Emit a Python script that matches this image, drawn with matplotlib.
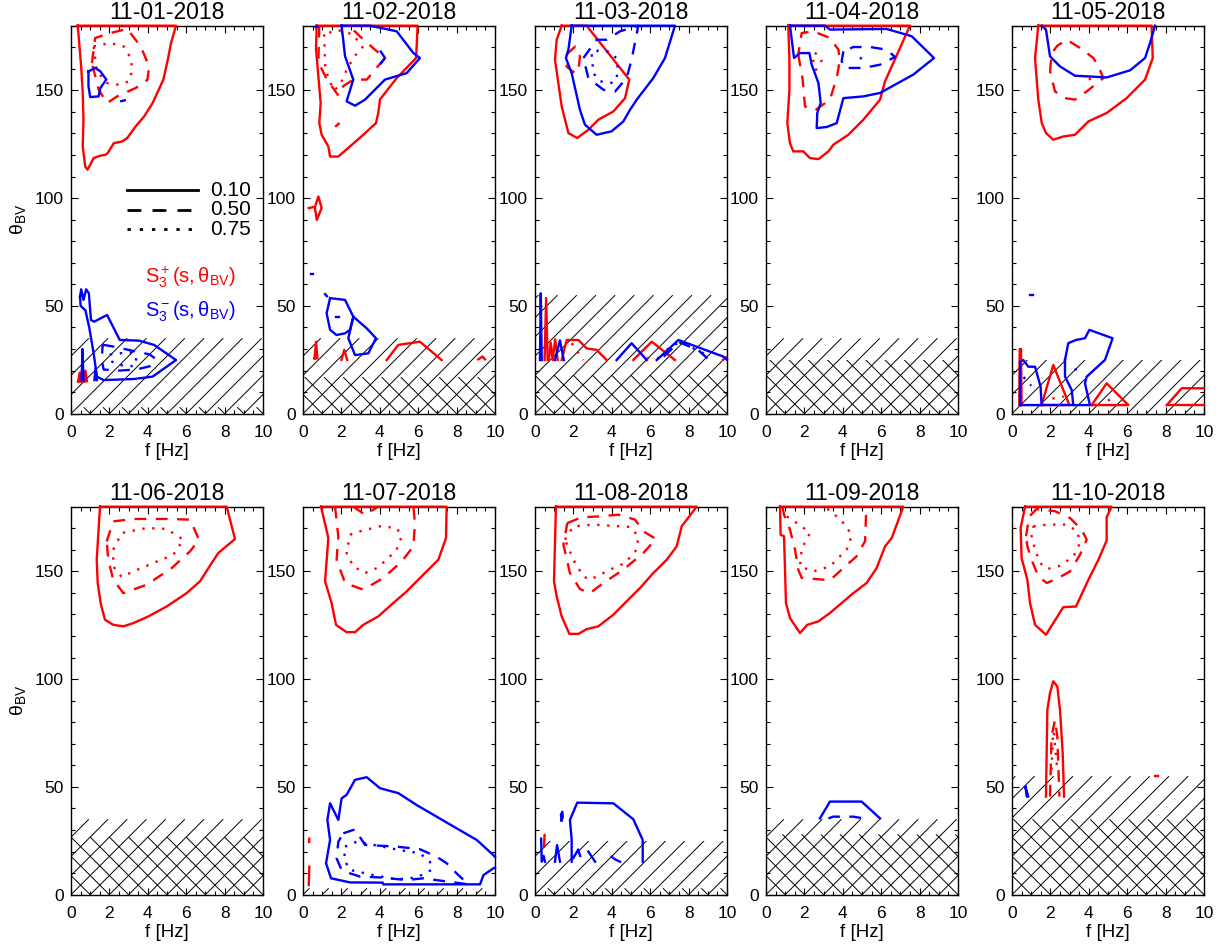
import matplotlib
matplotlib.use('Agg')
import numpy as np
import matplotlib.pyplot as plt
import matplotlib.patches as patches
from matplotlib.collections import LineCollection
from matplotlib.ticker import MultipleLocator

plt.rcParams['font.family'] = ['Liberation Sans', 'DejaVu Sans']
plt.rcParams['mathtext.fontset'] = 'custom'
plt.rcParams['mathtext.rm'] = 'Liberation Sans'
plt.rcParams['mathtext.it'] = 'Liberation Sans'

dates = ['11-01-2018', '11-02-2018', '11-03-2018', '11-04-2018', '11-05-2018',
         '11-06-2018', '11-07-2018', '11-08-2018', '11-09-2018', '11-10-2018']
levels = [0.10, 0.50, 0.75]

# upper limit of the single (/) and crossed (x) hatched zones, deg
hatch_single = [35, 35, 55, 35, 25, 35, 3, 25, 35, 55]
hatch_cross = [3, 17, 18, 25, 0, 27, 0, 3, 28, 35]

# contour lines: (level, [(f, theta), ...])
nov01_plus = [
    (0.10, [(0.35, 180), (0.42, 172.8), (0.53, 161.1), (0.61, 148.8), (0.65, 136.4), (0.61, 124), (0.74, 114.7),
            (0.86, 113.2), (1.0, 115.5), (1.18, 118.6), (1.53, 119.7), (1.79, 120.1), (1.91, 120.9), (2.23, 125.5),
            (2.67, 126.3), (2.93, 127.9), (3.37, 133.3), (3.81, 137.9), (4.25, 144.1), (4.81, 155), (5.04, 164.2),
            (5.21, 172), (5.47, 180), (0.35, 180)]),
    (0.10, [(0.37, 15), (0.45, 19), (0.52, 15), (0.6, 22), (0.68, 15), (0.75, 20), (0.83, 15), (0.37, 15)]),
    (0.50, [(1.09, 162.7), (1.26, 174.3), (2.05, 176.6), (2.93, 178.5), (3.63, 170.4), (4.07, 161.1), (3.98, 154.9),
            (3.37, 151.1), (2.4, 147.2), (1.88, 144.1), (1.44, 150.3), (1.09, 162.7)]),
    (0.75, [(1.18, 170.4), (2.05, 172), (2.75, 170.4), (3.11, 165), (3.19, 159.6), (3.02, 154.2), (2.49, 152.6),
            (1.88, 153.4), (1.35, 158.8), (1.18, 170.4)]),
]
nov01_minus = [
    (0.10, [(0.91, 158.8), (1.26, 160.4), (1.53, 158.8), (1.84, 155), (1.53, 151.1), (1.44, 147.2), (1.0, 146.9),
            (0.91, 151.9), (0.91, 158.8)]),
    (0.10, [(2.62, 145), (2.8, 145.4)]),
    (0.10, [(0.47, 54.3), (0.53, 57.7), (0.65, 52.8), (0.79, 57.7), (0.93, 55.9), (1.04, 43.5), (1.21, 42.7),
            (1.88, 45.8), (2.54, 34.2), (3.54, 33.9), (4.33, 31.9), (5.47, 24.9), (4.25, 17.2), (3.28, 16.1),
            (1.70, 15.6), (1.35, 17.2), (1.18, 28), (0.95, 40), (0.75, 48), (0.5, 50), (0.47, 54.3)]),
    (0.10, [(0.55, 15.6), (0.6, 30), (0.65, 15.6)]),
    (0.10, [(1.22, 15.6), (1.28, 21), (1.35, 15.6)]),
    (0.50, [(1.65, 32), (2.3, 31), (3.3, 29), (4.1, 27.5), (4.4, 25.5), (4.1, 22), (3.4, 20.5), (2.5, 20), (1.7, 20.5),
            (1.6, 25), (1.65, 32)]),
    (0.75, [(2.03, 27.5), (3.07, 28.5), (3.42, 26.5), (3.3, 22), (2.6, 22.5), (2.03, 24.5), (2.03, 27.5)]),
]

nov02_plus = [
    (0.10, [(0.71, 180), (5.97, 180), (5.89, 165), (4.88, 155.7), (4.01, 145.8), (3.92, 139.5), (3.8, 134.8),
            (3.14, 129.4), (2.45, 124), (1.84, 119.3), (1.41, 119.3), (1.32, 124), (0.97, 129.4), (0.85, 134.8),
            (0.92, 144.1), (0.8, 156.5), (0.68, 168.9), (0.71, 180)]),
    (0.10, [(0.3, 95.4), (0.63, 96), (0.8, 100.8), (0.97, 95.4), (0.72, 89.9), (0.63, 95)]),
    (0.10, [(1.72, 133.5), (1.86, 134.5)]),
    (0.10, [(0.6, 25.7), (0.68, 33.4), (0.75, 25.7), (0.6, 25.7)]),
    (0.10, [(2.0, 25), (2.15, 29.6), (2.3, 25)]),
    (0.10, [(4.36, 24.9), (4.96, 31.9), (6.09, 33.4), (7.22, 24.9)]),
    (0.10, [(9.13, 25.2), (9.35, 26.5), (9.48, 25.2)]),
    (0.50, [(0.85, 180), (0.8, 163), (1.25, 155), (1.85, 147.5), (2.1, 152), (2.62, 155), (3.32, 155), (4.27, 165),
            (3.6, 170), (2.97, 175), (2.4, 180)]),
    (0.75, [(1.1, 176), (1.15, 162), (1.3, 156), (1.6, 150), (1.9, 152), (2.3, 160), (2.7, 166), (3.1, 170),
            (2.6, 176), (1.8, 178), (1.1, 176)]),
]
nov02_minus = [
    (0.10, [(2.01, 180), (3.49, 180), (4.88, 177.4), (5.75, 167.3), (6.09, 165), (5.4, 158), (4.27, 155),
            (3.23, 145.7), (2.71, 142.9), (2.27, 144.9), (2.62, 155), (2.19, 165.8), (2.01, 180)]),
    (0.10, [(4.05, 168), (4.27, 165), (4.05, 162.5)]),
    (0.10, [(0.66, 179.5), (0.78, 179.5)]),
    (0.10, [(1.41, 53.6), (2.19, 52.8), (2.62, 45), (2.45, 38.9), (2.19, 37.3), (1.75, 36.5), (1.41, 38.9),
            (1.23, 46.6), (1.41, 53.6)]),
    (0.10, [(2.62, 45), (3.32, 39.6), (3.8, 35), (3.4, 28), (2.71, 27.2), (2.36, 35), (2.62, 45)]),
    (0.10, [(1.15, 55.5), (1.25, 54.5)]),
    (0.10, [(1.72, 45), (1.86, 45)]),
    (0.10, [(0.42, 64.9), (0.52, 64.9)]),
]

nov03_plus = [
    (0.10, [(1.39, 180), (2.69, 180), (4.91, 155), (4.69, 146.4), (4.08, 140.2), (3.3, 136.4), (2.78, 131.7),
            (2.2, 127.9), (1.74, 130.2), (1.39, 142.6), (1.04, 164.2), (1.13, 173.5), (1.39, 180)]),
    (0.10, [(0.5, 24.9), (0.58, 53.6), (0.66, 24.9)]),
    (0.10, [(0.72, 24.9), (0.82, 33), (0.92, 24.9), (1.05, 34.5), (1.18, 24.9)]),
    (0.10, [(1.39, 24.9), (1.65, 34.2), (2.26, 34.2), (2.69, 30.3), (3.21, 29.6), (3.73, 24.9)]),
    (0.10, [(5.12, 24.9), (6.08, 33.4), (7.29, 24.9)]),
    (0.10, [(9.8, 25), (9.95, 26)]),
    (0.50, [(1.65, 166.7), (2.1, 170.4), (2.34, 165.8), (2.26, 158.8), (2.08, 158), (1.65, 161), (1.65, 166.7)]),
    (0.75, [(1.91, 32.7), (2.52, 24.9)]),
    (0.75, [(5.82, 25.7), (6.5, 25.7)]),
]
nov03_minus = [
    (0.10, [(1.91, 180), (1.74, 168.9), (1.61, 165), (1.91, 158), (2.34, 141), (2.6, 134.1), (3.21, 129.4),
            (3.99, 131), (4.6, 135.6), (4.95, 141), (5.3, 145.7), (6.16, 155.7), (6.77, 165), (7.29, 180),
            (1.91, 180)]),
    (0.10, [(0.26, 24.9), (0.3, 55.9), (0.35, 24.9)]),
    (0.10, [(1.04, 24.9), (1.3, 34), (1.5, 24.9)]),
    (0.10, [(4.25, 24.9), (5.03, 32.7), (5.82, 24.9)]),
    (0.10, [(6.34, 24.9), (7.47, 34.2), (9.81, 26.5), (10, 25)]),
    (0.50, [(2.52, 165), (3.21, 173.5), (3.73, 173.5), (4.43, 177.4), (5.38, 180), (5.03, 164.2), (4.77, 155.7),
            (4.17, 149.5), (3.56, 150.3), (2.78, 155.7), (2.52, 165)]),
    (0.50, [(6.7, 26.5), (7.5, 33.2), (8.5, 29.5), (9.0, 25.5)]),
    (0.75, [(2.95, 166.7), (3.04, 158), (3.39, 154.2), (4.08, 153.4), (4.34, 158), (4.25, 164.9), (3.82, 168),
            (3.3, 168.5), (2.95, 166.7)]),
    (0.75, [(6.86, 29.6), (7.55, 33.4), (8.77, 28), (8.94, 24.9)]),
]

nov04_plus = [
    (0.10, [(1.16, 180), (7.5, 180), (6.2, 154.2), (5.94, 145.7), (5.07, 136.4), (4.29, 129.4), (3.51, 124.8),
            (3.25, 121.7), (2.73, 118.1), (2.29, 118.6), (1.94, 121.7), (1.42, 121.7), (1.25, 125.5), (1.11, 134.8),
            (1.22, 150.3), (1.22, 164.2), (1.16, 180)]),
    (0.50, [(1.68, 166.6), (1.91, 155), (2.03, 142.6), (2.55, 140.7), (3.33, 145.7), (3.68, 155.7), (3.85, 164.2),
            (3.77, 168.9), (3.33, 174.3), (2.47, 177.4), (1.86, 176.6), (1.68, 166.6)]),
    (0.75, [(2.55, 167.5), (2.9, 164), (2.6, 159.5), (2.45, 163), (2.55, 167.5)]),
]
nov04_minus = [
    (0.10, [(1.25, 180), (1.46, 165), (1.77, 167.3), (2.26, 167.3), (2.38, 161.9), (2.73, 153.4), (2.85, 144.1),
            (2.67, 139.5), (2.64, 132.5), (3.16, 133), (3.68, 134.8), (4.03, 146.4), (5.07, 147.2), (5.94, 148.8),
            (7.67, 157.3), (8.75, 165), (7.59, 175.1), (6.28, 178.5), (3.33, 178.2), (3.07, 180), (1.25, 180)]),
    (0.50, [(4.03, 168.1), (3.94, 163.5), (4.11, 160.4), (5.07, 160.4), (5.94, 161.9), (6.72, 165.5), (6.28, 168.9),
            (5.42, 170.1), (4.55, 170.1), (4.03, 168.1)]),
    (0.75, [(4.9, 164.5), (5.05, 166)]),
]

nov05_plus = [
    (0.10, [(1.37, 180), (7.27, 180), (7.33, 165), (6.93, 155), (5.97, 146.4), (4.93, 139.5), (3.98, 135.6),
            (3.28, 129.4), (2.67, 128.6), (2.15, 127.1), (1.77, 130.2), (1.55, 134.8), (1.37, 145.7), (1.2, 165),
            (1.37, 180)]),
    (0.10, [(0.38, 4), (0.4, 30), (0.47, 30), (0.5, 4)]),
    (0.10, [(1.54, 4), (2.15, 22.6), (2.99, 4), (1.54, 4)]),
    (0.10, [(4.15, 4), (4.93, 14.1), (6.06, 4), (4.15, 4)]),
    (0.10, [(8.06, 4), (8.84, 11.8), (10, 11.8)]),
    (0.10, [(8.06, 4), (10, 4)]),
    (0.50, [(1.98, 158.8), (2.07, 167.3), (2.36, 170.7), (2.85, 173.5), (3.54, 169.7), (4.24, 165), (4.5, 161.1),
            (4.76, 155.7), (3.89, 149.5), (3.28, 145.7), (2.76, 146.4), (2.24, 149.5), (1.98, 158.8)]),
    (0.75, [(4.0, 155), (4.12, 155.6)]),
    (0.75, [(2.1, 7), (2.7, 8)]),
    (0.75, [(5.0, 6), (5.3, 8)]),
]
nov05_minus = [
    (0.10, [(1.55, 180), (1.77, 178.2), (1.98, 165.8), (2.5, 161.1), (3.28, 156.8), (4.93, 156), (6.15, 159.3),
            (6.93, 165), (7.19, 172), (7.45, 180)]),
    (0.10, [(0.42, 4), (0.42, 24.1), (0.59, 24.9), (0.85, 21.8), (1.2, 21.8), (1.49, 12.5), (1.54, 4), (0.42, 4)]),
    (0.10, [(1.54, 4), (3.19, 4)]),
    (0.10, [(2.76, 24.9), (2.93, 32.7), (3.33, 34.2), (3.8, 35), (4.03, 38.9), (5.24, 35), (4.84, 24.9),
            (3.89, 17.2), (3.8, 14.1), (4.06, 4), (3.19, 4), (3.11, 11), (2.76, 17.2), (2.76, 24.9)]),
    (0.10, [(0.95, 55.1), (1.1, 55.1)]),
    (0.75, [(0.6, 17), (0.8, 15), (1.0, 13)]),
    (0.75, [(3.3, 20), (3.4, 23)]),
]

nov06_plus = [
    (0.10, [(1.51, 180), (8.11, 180), (8.54, 165), (7.67, 158.5), (7.33, 153.9), (6.72, 145.4), (6.02, 139.9),
            (4.98, 133.7), (4.03, 129.1), (3.25, 126), (2.73, 124.5), (2.2, 125.2), (1.77, 127.6), (1.56, 134.5),
            (1.39, 144.6), (1.34, 155.4), (1.51, 180)]),
    (0.50, [(1.86, 163.9), (2.2, 173.2), (3.25, 174.3), (5.16, 174.3), (6.2, 174), (6.67, 164.7), (6.2, 159.3),
            (5.24, 151.5), (3.94, 143.8), (2.73, 139.9), (2.2, 146.1), (1.94, 155.4), (1.86, 163.9)]),
    (0.75, [(2.2, 160.1), (2.64, 167.8), (3.94, 170.1), (4.98, 169.7), (5.85, 164.7), (5.33, 157.7), (4.29, 153.9),
            (3.25, 150), (2.64, 147.4), (2.2, 152.3), (2.2, 160.1)]),
]
nov06_minus = []

nov07_plus = [
    (0.10, [(0.94, 180), (7.48, 180), (7.45, 165.5), (7.05, 155.4), (5.92, 145.4), (5.4, 140.7), (4.7, 135.3),
            (3.92, 129.1), (3.14, 125.2), (2.71, 121.8), (2.27, 121.8), (1.72, 125.2), (1.49, 135.3), (1.15, 145.4),
            (1.32, 165.5), (0.94, 180)]),
    (0.10, [(0.3, 4.5), (0.33, 13)]),
    (0.10, [(0.32, 24.5), (0.33, 26)]),
    (0.50, [(1.67, 180), (1.84, 166), (1.75, 155.4), (2.19, 144.6), (3.14, 141.5), (4.18, 146.9), (5.14, 154.6),
            (5.75, 161.6), (5.83, 172.4), (5.75, 180)]),
    (0.50, [(2.62, 180), (3.23, 176.3), (3.92, 180)]),
    (0.75, [(2.45, 167), (2.97, 168.6), (4.01, 170.9), (4.88, 170.1), (5.14, 166.3), (4.88, 160.1), (4.36, 155.4),
            (3.84, 151.5), (3.23, 149.2), (2.62, 152.3), (2.27, 158.5), (2.45, 167)]),
]
nov07_minus = [
    (0.10, [(10, 17.5), (9.91, 18.4), (9.05, 25.4), (8.0, 30.8), (6.96, 36.2), (5.92, 41.6), (4.97, 47.1),
            (4.01, 49.4), (3.32, 54.5), (2.71, 53.3), (2.27, 46.3), (2.01, 44.7), (1.84, 34.7), (1.41, 42.4),
            (1.27, 34.7), (1.41, 25.4), (1.2, 14.6), (1.46, 7.6), (2.45, 5.7), (4.15, 5.6), (4.18, 4.8), (9.22, 4.8),
            (9.4, 9.1), (9.91, 12.2), (10, 12.6)]),
    (0.50, [(2.1, 28.5), (2.71, 30.3), (3.23, 23.1), (4.27, 22.6), (4.88, 22.3), (6.09, 21.1), (6.96, 17.6),
            (7.48, 14.6), (8.0, 9.9), (8.61, 4.8), (6.26, 7.6), (5.4, 6.8), (4.01, 8.0), (2.97, 8.4), (2.45, 9.9),
            (2.01, 11.5), (1.75, 16.9), (1.84, 24.6), (2.1, 28.5)]),
    (0.75, [(2.19, 22.3), (2.8, 24.6), (3.66, 23.1), (5.05, 20.7), (6.09, 19.2), (6.61, 15.3), (6.7, 11.5),
            (5.92, 8.0), (4.88, 7.1), (3.66, 9.1), (2.45, 11.5), (2.15, 16.1), (2.19, 22.3)]),
]

nov08_plus = [
    (0.10, [(1.09, 180), (8.42, 180), (7.64, 170.9), (7.38, 161.6), (6.86, 155.4), (6.16, 149.2), (5.47, 142.3),
            (4.77, 136.1), (4.08, 129.9), (3.3, 124.5), (2.69, 123.2), (2.26, 121), (1.79, 121), (1.39, 129.1),
            (1.13, 138.4), (0.99, 145.4), (1.09, 180)]),
    (0.10, [(0.47, 22.3), (0.5, 27.7)]),
    (0.50, [(1.68, 172.4), (2.43, 175.1), (3.39, 175.5), (4.34, 176.3), (5.21, 174), (5.64, 168.6), (6.3, 165),
            (5.64, 158.5), (4.6, 150.8), (3.56, 144.6), (2.86, 139.9), (2.34, 141.8), (1.82, 149.2), (1.48, 162.4),
            (1.68, 172.4)]),
    (0.75, [(1.56, 164.7), (2.0, 170.9), (3.04, 171.7), (4.95, 170.6), (5.38, 166.3), (5.3, 160.1), (4.69, 153.9),
            (3.91, 150.8), (2.86, 146.1), (2.52, 147.7), (2.0, 155.4), (1.56, 164.7)]),
]
nov08_minus = [
    (0.10, [(1.91, 15.3), (1.91, 25.4), (1.82, 34.7), (2.2, 42.7), (4.08, 42.4), (5.12, 35), (5.61, 25.4),
            (5.61, 15.3)]),
    (0.10, [(1.38, 34.5), (1.35, 37), (1.42, 38.5), (1.45, 36), (1.38, 34.5)]),
    (0.10, [(0.32, 26), (0.35, 15.3), (0.45, 18), (0.52, 15.3)]),
    (0.10, [(1.04, 15.3), (1.15, 23), (1.3, 15.3)]),
    (0.10, [(2.0, 17), (2.25, 21), (2.35, 18)]),
    (0.10, [(2.78, 20), (3.13, 15.3)]),
    (0.10, [(3.99, 17.6), (4.15, 16.5), (4.43, 15.3)]),
]

nov09_plus = [
    (0.10, [(0.73, 180), (7.15, 180), (6.55, 165.5), (6.2, 161.6), (5.76, 151.5), (5.24, 144.6), (4.55, 139.9),
            (3.94, 135.3), (3.33, 130.7), (2.73, 126.8), (2.15, 125.2), (1.77, 121.4), (1.25, 128.3), (1.04, 135.3),
            (0.94, 166.3), (0.76, 167), (0.73, 180)]),
    (0.50, [(0.85, 180), (0.94, 176.3), (1.25, 169.3), (1.51, 160.1), (1.68, 150.8), (1.86, 147), (3.33, 145.9),
            (3.94, 150.8), (4.72, 157), (5.16, 164), (5.21, 176.3), (5.24, 180)]),
    (0.75, [(1.08, 175.5), (1.86, 170.9), (2.29, 167.8), (1.86, 160.5), (1.77, 152.3), (2.47, 150), (3.33, 152.3),
            (4.2, 160.1), (4.46, 166.3), (4.2, 170.9), (3.68, 175.5), (3.07, 180)]),
]
nov09_minus = [
    (0.10, [(2.81, 35.4), (3.33, 43.2), (4.98, 43.2), (5.94, 35.4)]),
    (0.50, [(3.25, 35.4), (3.5, 36.2), (4.55, 36.2), (5.07, 35.4)]),
]

nov10_plus = [
    (0.10, [(0.68, 180), (5.19, 180), (4.93, 175.1), (4.93, 164.3), (4.5, 155.4), (3.98, 146.1), (3.33, 133.7),
            (2.67, 133.4), (1.77, 120.6), (1.2, 125.2), (0.94, 135.3), (0.8, 146.1), (0.5, 156.2), (0.45, 170.1),
            (0.68, 180)]),
    (0.10, [(1.77, 45.5), (1.84, 85.8), (1.98, 93.6), (2.15, 99), (2.36, 96.6), (2.5, 85.8), (2.64, 65.6),
            (2.71, 45.5)]),
    (0.10, [(7.45, 55.1), (7.6, 55.1)]),
    (0.50, [(0.73, 166.3), (0.9, 175.5), (1.28, 178.9), (2.24, 177.9), (3.02, 174.8), (3.63, 169.3), (3.89, 164.7),
            (3.54, 157.7), (3.02, 150), (2.41, 146.9), (1.81, 144.6), (1.37, 147.7), (1.02, 155.4), (0.8, 161.6),
            (0.73, 166.3)]),
    (0.50, [(1.98, 45.5), (2.06, 73.4), (2.24, 81.1), (2.36, 73.4), (2.47, 45.5)]),
    (0.75, [(1.11, 170.9), (1.89, 171.7), (2.85, 171.7), (3.4, 168.6), (3.54, 163.2), (3.19, 156.7), (2.41, 152.3),
            (1.84, 151.1), (1.46, 153.9), (1.2, 160.1), (1.02, 166.3), (1.11, 170.9)]),
    (0.75, [(2.06, 58), (2.15, 78), (2.36, 58)]),
]
nov10_minus = [
    (0.10, [(0.7, 50), (0.77, 45.5), (0.85, 45.5), (0.7, 50)]),
]

plus_all = [nov01_plus, nov02_plus, nov03_plus, nov04_plus, nov05_plus,
            nov06_plus, nov07_plus, nov08_plus, nov09_plus, nov10_plus]
minus_all = [nov01_minus, nov02_minus, nov03_minus, nov04_minus, nov05_minus,
             nov06_minus, nov07_minus, nov08_minus, nov09_minus, nov10_minus]

RED = '#ff0000'
BLUE = '#0000ff'
line_styles = {0.10: '-', 0.50: (0, (5, 4)), 0.75: (0, (1, 3.2))}

# panel geometry in pixels
W, H = 1224.0, 951.0
AX_W, AX_H = 192.0, 388.0
lefts = [71, 303, 535, 766, 1012]
bottoms = [1 - 413.7 / H, 1 - 894.7 / H]
XMAX, YMAX = 10.0, 180.0
HATCH_STEP = 1.0  # Hz between hatch lines


def draw_contours(ax, contours, color):
    for level, pts in contours:
        fs = [p[0] for p in pts]
        ths = [p[1] for p in pts]
        ax.plot(fs, ths, color=color, lw=1.7, linestyle=line_styles[level], clip_on=False, zorder=3)


def draw_hatch(ax, top, sign):
    # 45 degree lines on screen, clipped to the box [0,10] x [0,top]
    if top <= 0:
        return
    slope = (AX_W / XMAX) / (AX_H / YMAX)
    segs = []
    for f0 in np.arange(-30, 31, HATCH_STEP):
        segs.append([(f0, 0), (f0 + sign * top / slope, top)])
    box = patches.Rectangle((0, 0), XMAX, top, transform=ax.transData, fill=False, lw=0)
    lc = LineCollection(segs, colors='black', linewidths=0.7, zorder=1)
    ax.add_collection(lc)
    lc.set_clip_path(box)


fig = plt.figure(figsize=(12.24, 9.51), dpi=100)
axes = []
for i in range(10):
    r, c = divmod(i, 5)
    ax = fig.add_axes([lefts[c] / W, bottoms[r], AX_W / W, AX_H / H])
    axes.append(ax)
    draw_hatch(ax, hatch_single[i], 1)
    draw_hatch(ax, hatch_cross[i], -1)
    draw_contours(ax, plus_all[i], RED)
    draw_contours(ax, minus_all[i], BLUE)
    ax.set_xlim(0, XMAX)
    ax.set_ylim(0, YMAX)
    ax.xaxis.set_major_locator(MultipleLocator(2))
    ax.xaxis.set_minor_locator(MultipleLocator(0.5))
    ax.yaxis.set_major_locator(MultipleLocator(50))
    ax.yaxis.set_minor_locator(MultipleLocator(10))
    ax.tick_params(which='both', direction='in', top=True, right=True, labelsize=12.5, width=0.8)
    ax.tick_params(which='major', length=5)
    ax.tick_params(which='minor', length=3)
    ax.tick_params(axis='x', pad=8)
    ax.tick_params(axis='y', pad=5)
    for sp in ax.spines.values():
        sp.set_linewidth(1.0)
    ax.set_title(dates[i], fontsize=16.5, pad=5)
    ax.set_xlabel('f [Hz]', fontsize=13.5, labelpad=2)
    if c == 0:
        ax.set_ylabel(r'$\mathregular{\theta_{BV}}$', fontsize=14, labelpad=5)

# legend in the first panel
ax = axes[0]
leg_styles = ['-', (0, (5, 4)), (0, (1.2, 3.2))]
for k, lev in enumerate(levels):
    y = 0.576 - 0.05 * k
    ax.plot([0.29, 0.66], [y, y], transform=ax.transAxes, color='black', lw=2, linestyle=leg_styles[k], zorder=4)
    ax.text(0.725, y, '%.2f' % lev, transform=ax.transAxes, fontsize=15, va='center', ha='left')
ax.text(0.385, 0.353, r'$\mathregular{S_3^+(s,\theta_{BV})}$', transform=ax.transAxes, color=RED,
        fontsize=14.5, va='center', ha='left')
ax.text(0.385, 0.263, r'$\mathregular{S_3^-(s,\theta_{BV})}$', transform=ax.transAxes, color=BLUE,
        fontsize=14.5, va='center', ha='left')

fig.savefig('out.png', dpi=100)
